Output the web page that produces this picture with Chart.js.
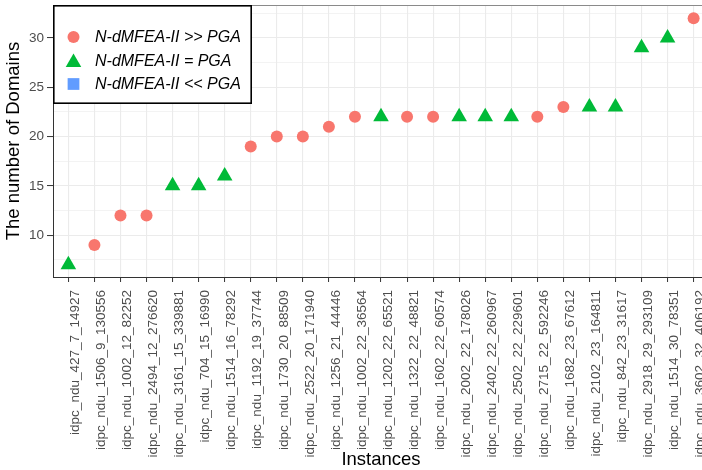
<!DOCTYPE html>
<html>
<head>
<meta charset="utf-8">
<script src="https://cdn.jsdelivr.net/npm/chart.js@4.4.1/dist/chart.umd.min.js"></script>
<style>
  html, body { margin: 0; padding: 0; background: #fff; overflow: hidden; }
  #chart { display: block; }
</style>
</head>
<body>
<canvas id="chart" width="709" height="470"></canvas>
<script>
// instances on the x axis, in plotted order
const instances = [
  'idpc_ndu_427_7_14927', 'idpc_ndu_1506_9_130556', 'idpc_ndu_1002_12_82252',
  'idpc_ndu_2494_12_276620', 'idpc_ndu_3161_15_339881', 'idpc_ndu_704_15_16990',
  'idpc_ndu_1514_16_78292', 'idpc_ndu_1192_19_37744', 'idpc_ndu_1730_20_88509',
  'idpc_ndu_2522_20_171940', 'idpc_ndu_1256_21_44446', 'idpc_ndu_1002_22_36564',
  'idpc_ndu_1202_22_65521', 'idpc_ndu_1322_22_48821', 'idpc_ndu_1602_22_60574',
  'idpc_ndu_2002_22_178026', 'idpc_ndu_2402_22_260967', 'idpc_ndu_2502_22_229601',
  'idpc_ndu_2715_22_592246', 'idpc_ndu_1682_23_67612', 'idpc_ndu_2102_23_164811',
  'idpc_ndu_842_23_31617', 'idpc_ndu_2918_29_293109', 'idpc_ndu_1514_30_78351',
  'idpc_ndu_3602_32_406192'
];
const domains = [7, 9, 12, 12, 15, 15, 16, 19, 20, 20, 21, 22, 22, 22, 22, 22, 22, 22, 22, 23, 23, 23, 29, 30, 32];
const outcome = ['=', '>>', '>>', '>>', '=', '=', '=', '>>', '>>', '>>', '>>', '>>', '=',
  '>>', '>>', '=', '=', '=', '>>', '>>', '=', '=', '=', '=', '>>'];

const groups = ['>>', '=', '<<'];
const groupLabels = ['N-dMFEA-II >> PGA', 'N-dMFEA-II = PGA', 'N-dMFEA-II << PGA'];
const yTicks = [7.5, 10, 12.5, 15, 17.5, 20, 22.5, 25, 27.5, 30, 32.5];

const groupColors = ['#F8766D', '#00BA38', '#619CFF'];
const groupShapes = ['circle', 'triangle', 'rect'];
const groupRadius = [6, 9, 8.3];

const FONT = 'Arial, "Liberation Sans", sans-serif';

const datasets = groups.map((g, gi) => ({
  label: groupLabels[gi],
  data: instances
    .map((name, i) => ({ x: i, y: domains[i], g: outcome[i] }))
    .filter(p => p.g === g),
  pointStyle: groupShapes[gi],
  pointRadius: groupRadius[gi],
  pointHoverRadius: groupRadius[gi],
  pointBackgroundColor: groupColors[gi],
  pointBorderWidth: 0,
  backgroundColor: groupColors[gi],
  borderColor: groupColors[gi]
}));

function noEdgePadding(scale) {
  scale.paddingTop = 0;
  scale.paddingBottom = 0;
  scale.paddingLeft = 0;
  scale.paddingRight = 0;
}

// legend box drawn inside the panel, top-left
const boxLegend = {
  id: 'boxLegend',
  afterDraw(chart) {
    const { ctx, chartArea } = chart;
    const x0 = chartArea.left, y0 = chartArea.top;
    ctx.save();
    ctx.fillStyle = '#fff';
    ctx.fillRect(x0, y0, 199, 99);
    ctx.strokeStyle = '#000';
    ctx.lineWidth = 1.6;
    ctx.strokeRect(x0 + 0.8, y0 + 0.8, 197.4, 97.4);
    ctx.font = 'italic 16px ' + FONT;
    ctx.textBaseline = 'middle';
    chart.data.datasets.forEach((ds, i) => {
      const cy = y0 + 32 + i * 23.5;
      ctx.fillStyle = ds.pointBackgroundColor;
      Chart.helpers.drawPoint(ctx, {
        pointStyle: ds.pointStyle, radius: ds.pointRadius, rotation: 0, borderWidth: 0
      }, x0 + 20.5, ds.pointStyle === 'triangle' ? cy + 2 : cy);
      ctx.fillStyle = '#000';
      ctx.fillText(ds.label, x0 + 42, cy + 1);
    });
    ctx.restore();
  }
};

// thin top edge of the panel
const panelTop = {
  id: 'panelTop',
  beforeDatasetsDraw(chart) {
    const { ctx, chartArea } = chart;
    ctx.save();
    ctx.strokeStyle = '#8a8a8a';
    ctx.lineWidth = 1;
    ctx.beginPath();
    ctx.moveTo(chartArea.left, chartArea.top + 0.5);
    ctx.lineTo(chartArea.right, chartArea.top + 0.5);
    ctx.stroke();
    ctx.restore();
  }
};

new Chart(document.getElementById('chart'), {
  type: 'scatter',
  data: { datasets },
  options: {
    responsive: false,
    animation: false,
    events: [],
    layout: { autoPadding: false, padding: { top: 5, left: 0, right: 0, bottom: 0 } },
    plugins: {
      legend: { display: false },
      tooltip: { enabled: false }
    },
    scales: {
      x: {
        type: 'linear',
        min: -0.59,
        max: instances.length - 1 + 0.59,
        afterBuildTicks: scale => { scale.ticks = instances.map((_, i) => ({ value: i })); },
        afterFit: scale => { scale.height = 193; noEdgePadding(scale); },
        grid: { color: '#EBEBEB', lineWidth: 1.1, tickColor: '#333333', tickWidth: 1, tickLength: 5 },
        border: { display: true, color: '#333333', width: 1 },
        ticks: {
          autoSkip: false,
          minRotation: 90,
          maxRotation: 90,
          padding: 8,
          labelOffset: 7,
          color: '#4D4D4D',
          font: { family: FONT, size: 13.5 },
          callback: v => instances[v]
        },
        title: {
          display: true,
          text: 'Instances',
          color: '#000',
          font: { family: FONT, size: 18.5, lineHeight: 1 },
          padding: { top: 0, bottom: 0.5 }
        }
      },
      y: {
        min: 5.75,
        max: 33.35,
        afterBuildTicks: scale => { scale.ticks = yTicks.map(v => ({ value: v })); },
        afterFit: scale => { scale.width = 53; noEdgePadding(scale); },
        grid: {
          color: '#EBEBEB',
          lineWidth: c => (c.tick && c.tick.value % 5 === 0 ? 1.1 : 0.6),
          tickColor: c => (c.tick && c.tick.value % 5 === 0 ? '#333333' : 'rgba(0,0,0,0)'),
          tickWidth: 1,
          tickLength: 6
        },
        border: { display: true, color: '#333333', width: 1 },
        ticks: {
          padding: 3,
          color: '#4D4D4D',
          font: { family: FONT, size: 13.5 },
          callback: v => (v % 5 === 0 ? v : '')
        },
        title: {
          display: true,
          text: 'The number of Domains',
          color: '#000',
          font: { family: FONT, size: 18.5, lineHeight: 1 },
          padding: { top: 5, bottom: 0 }
        }
      }
    }
  },
  plugins: [panelTop, boxLegend]
});
</script>
</body>
</html>
